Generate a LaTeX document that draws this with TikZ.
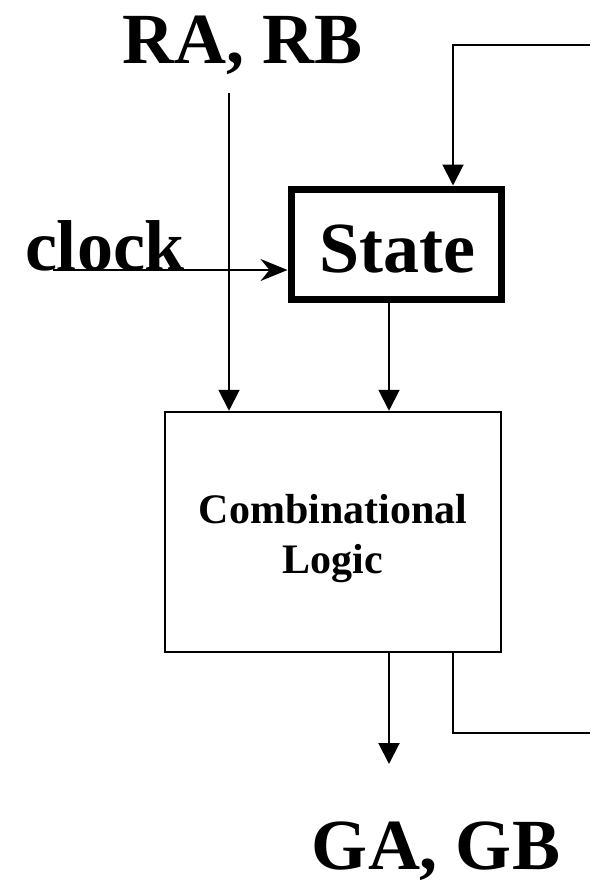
\documentclass[tikz,border=0pt]{standalone}
\usepackage{fontspec}
\setmainfont{Liberation Serif}
\usetikzlibrary{arrows.meta}
\begin{document}
\begin{tikzpicture}[x=1pt,y=-1pt,
  big/.style={font=\fontsize{72}{80}\selectfont\bfseries, inner sep=0pt},
  statebox/.style={draw, line width=7pt, minimum width=210pt, minimum height=110pt, inner sep=0pt},
  logicbox/.style={draw, line width=2.5pt, minimum width=336pt, minimum height=240pt, inner sep=0pt},
  wire/.style={line width=2pt},
  tri/.style={wire, -{Triangle[length=21pt,width=21pt]}},
  clk/.style={wire, -{Stealth[length=27pt,width=22pt,inset=9pt]}}]
  \useasboundingbox (0,0) rectangle (590,886);

  % blocks
  \node[statebox] (state) at (396,244) {};
  \node[big, anchor=base] (statetxt) at (397.5,272) {State};
  \node[logicbox] (logic) at (333,532) {};
  \node[font=\fontsize{42}{50}\selectfont\bfseries, align=center, inner sep=0pt, anchor=base] (logictxt) at (333,573) {Combinational\\Logic};

  % labels
  \node[big, anchor=base] (in) at (242.5,63) {RA, RB};
  \node[big, anchor=base] (out) at (436,869) {GA, GB};
  \node[big, anchor=base] (clock) at (105,270) {clock};

  % free ends of the wires
  \coordinate (inend) at (229,93);
  \coordinate (clkend) at (53,270);
  \coordinate (fbtop) at (590,45);
  \coordinate (fbbot) at (590,733);
  \coordinate (outend) at (389,764);

  % connectors
  \draw[clk] (clkend) -- (state.west |- clkend);
  \draw[tri] (inend) -- (inend |- logic.north);
  \draw[tri] (fbtop) -| (453,0 |- state.north);
  \draw[tri] (389,0 |- state.south) -- (389,0 |- logic.north);
  \draw[tri] (389,0 |- logic.south) -- (outend);
  \draw[wire] (453,0 |- logic.south) |- (fbbot);
\end{tikzpicture}
\end{document}
